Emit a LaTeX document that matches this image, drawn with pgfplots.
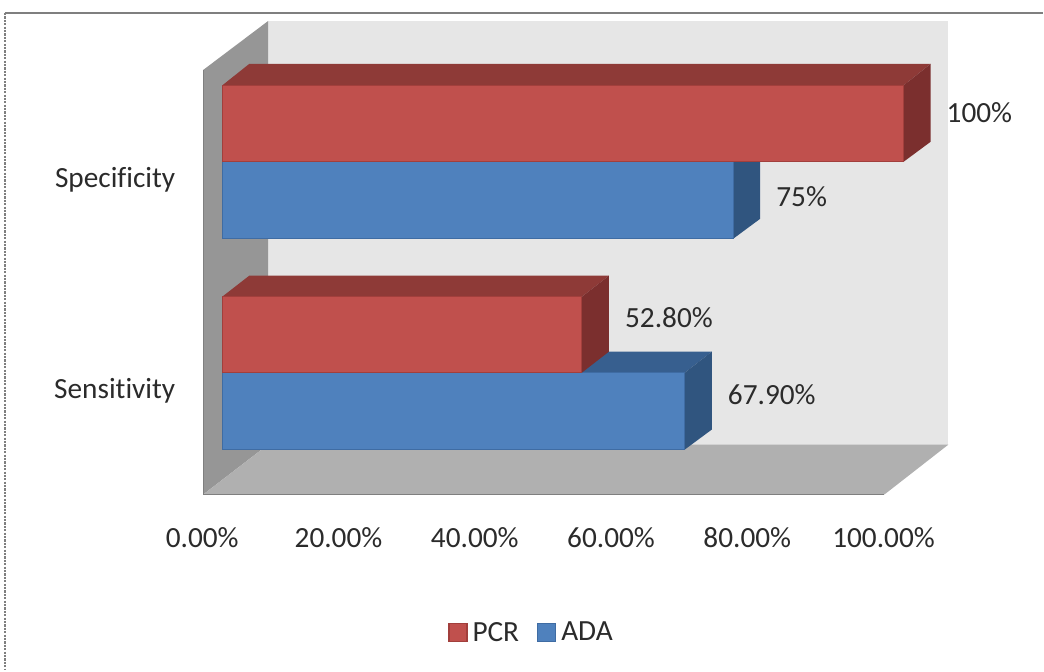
\documentclass[border=0pt]{standalone}
\usepackage{fontspec}
\setmainfont{Carlito}[Ligatures=NoCommon]
\usepackage{pgfplots}
\pgfplotsset{compat=1.18}
\definecolor{redfront}{HTML}{C0504D}
\definecolor{redtop}{HTML}{8E3A37}
\definecolor{redside}{HTML}{7B2F2E}
\definecolor{redline}{HTML}{A23F3C}
\definecolor{bluefront}{HTML}{4F81BD}
\definecolor{bluetop}{HTML}{375F8F}
\definecolor{blueside}{HTML}{30557F}
\definecolor{blueline}{HTML}{3F6CA3}
\definecolor{wallback}{HTML}{E6E6E6}
\definecolor{wallside}{HTML}{969696}
\definecolor{wallfloor}{HTML}{B0B0B0}
\definecolor{framegray}{HTML}{7F7F7F}
\definecolor{labeltext}{HTML}{2B2B2B}
\newcommand{\labelfont}{\fontsize{29.3}{32}\selectfont}
\pgfplotsset{
  face/.style={fill=#1, draw=none, forget plot},
  front/.style 2 args={fill=#1, draw=#2, line width=1pt, forget plot},
  swatch/.style={legend image code/.code={
    \draw[##1, line width=1.2pt] (0pt,-9pt) rectangle (18pt,9pt);}},
}
\begin{document}
\begin{tikzpicture}
\begin{axis}[
  x=6.82pt, y=1pt,
  scale only axis,
  xmin=-32.62, xmax=120.46,
  ymin=-1, ymax=670,
  y dir=reverse,
  axis line style={draw=none},
  major tick length=0pt,
  tick style={draw=none},
  axis x line=bottom,
  axis y line=left,
  xtick={0,20,40,60,80,100},
  xticklabels={0.00\%,20.00\%,40.00\%,60.00\%,80.00\%,100.00\%},
  ytick={178,389},
  yticklabels={Specificity,Sensitivity},
  tick label style={font=\labelfont, text=labeltext},
  x tick label style={anchor=center, xshift=-20pt, yshift=133pt},
  y tick label style={anchor=east, xshift=179pt, yshift=-1pt},
  legend style={
    at={(axis cs:45.4,632)}, anchor=center,
    draw=none, fill=none,
    legend columns=2,
    font=\labelfont,
    text=labeltext,
    /tikz/every even column/.append style={column sep=16pt},
  },
  clip=false,
]
% page outline: top rule and dotted left rule
\addplot[framegray, line width=2.2pt, forget plot] coordinates {(-31.9,12) (120.46,12)};
\addplot[framegray, line width=2.6pt, dash pattern=on 2.2pt off 1.2pt, forget plot] coordinates {(-31.9,12) (-31.9,670)};

% chart walls and floor
\addplot[face=wallback] coordinates {(6.74,20) (106.6,20) (106.6,444) (6.74,444)} --cycle;
\addplot[face=wallside] coordinates {(-2.79,69) (6.74,20) (6.74,444) (-2.79,494)} --cycle;
\addplot[face=wallfloor] coordinates {(-2.79,494) (6.74,444) (106.6,444) (97.2,494)} --cycle;
\addplot[framegray, line width=1.4pt, forget plot] coordinates {(-2.79,69) (-2.79,494) (97.2,494)};

% Sensitivity, ADA = 67.9
\addplot[face=bluetop] coordinates {(0,372) (67.9,372) (71.86,351) (3.96,351)} --cycle;
\addplot[face=blueside] coordinates {(67.9,372) (71.86,351) (71.86,429) (67.9,449)} --cycle;
\addplot[front={bluefront}{blueline}] coordinates {(0,372) (67.9,372) (67.9,449) (0,449)} --cycle;
% Sensitivity, PCR = 52.8
\addplot[face=redtop] coordinates {(0,296) (52.8,296) (56.76,275) (3.96,275)} --cycle;
\addplot[face=redside] coordinates {(52.8,296) (56.76,275) (56.76,351) (52.8,372)} --cycle;
\addplot[front={redfront}{redline}] coordinates {(0,296) (52.8,296) (52.8,372) (0,372)} --cycle;
% Specificity, ADA = 75
\addplot[face=blueside] coordinates {(75,161) (78.96,141) (78.96,218) (75,238)} --cycle;
\addplot[front={bluefront}{blueline}] coordinates {(0,161) (75,161) (75,238) (0,238)} --cycle;
% Specificity, PCR = 100
\addplot[face=redtop] coordinates {(0,84.5) (100,84.5) (103.96,63) (3.96,63)} --cycle;
\addplot[face=redside] coordinates {(100,84.5) (103.96,63) (103.96,141) (100,161)} --cycle;
\addplot[front={redfront}{redline}] coordinates {(0,84.5) (100,84.5) (100,161) (0,161)} --cycle;

% value labels, placed to the right of each bar end
\addplot[only marks, mark=none, forget plot,
  point meta=explicit symbolic,
  nodes near coords,
  nodes near coords align={anchor=west},
  every node near coord/.append style={
    anchor=west, xshift=43pt, inner sep=0pt,
    font=\labelfont, text=labeltext},
] coordinates {
  (100,112) [100\%]
  (75,196) [75\%]
  (52.8,317) [52.80\%]
  (67.9,394) [67.90\%]
};

\addlegendimage{swatch, fill=redfront, draw=redline}
\addlegendentry{\hspace{3pt}PCR}
\addlegendimage{swatch, fill=bluefront, draw=blueline}
\addlegendentry{\hspace{3pt}ADA}
\end{axis}
\end{tikzpicture}
\end{document}
